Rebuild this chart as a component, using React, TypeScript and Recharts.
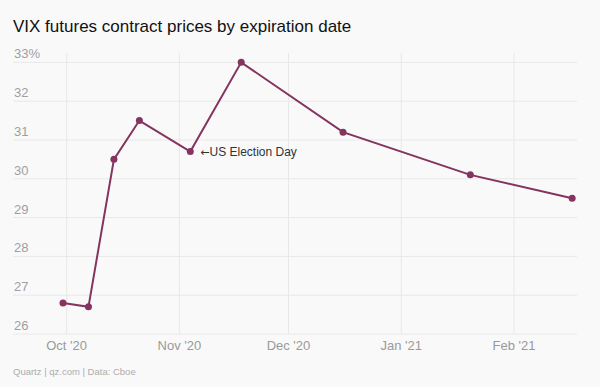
import React from 'react'
import { LineChart, Line, XAxis, YAxis, CartesianGrid, LabelList } from 'recharts'

// expiration dates and settle prices (VIX points)
const expirations = [
  '2020-09-30',
  '2020-10-07',
  '2020-10-14',
  '2020-10-21',
  '2020-11-04',
  '2020-11-18',
  '2020-12-16',
  '2021-01-20',
  '2021-02-17',
]
const prices = [26.8, 26.7, 30.5, 31.5, 30.7, 33.0, 31.2, 30.1, 29.5]

const yTicks = [26, 27, 28, 29, 30, 31, 32, 33]
const monthTicks = ['2020-10-01', '2020-11-01', '2020-12-01', '2021-01-01', '2021-02-01']
const monthLabels = ["Oct '20", "Nov '20", "Dec '20", "Jan '21", "Feb '21"]

const annotationIndex = 4
const annotationText = 'US Election Day'

const data = expirations.map((d, i) => ({ t: Date.parse(d), price: prices[i] }))
const xTicks = monthTicks.map((d) => Date.parse(d))

const FONT = '"Liberation Sans", Arial, Helvetica, sans-serif'
const PLUM = '#84345f'

function XTick(props: any) {
  const { x, y, payload } = props
  const i = xTicks.indexOf(payload.value)
  return (
    <text x={x} y={y + 16} textAnchor="middle" fontSize={13} fill="#9a9a9a" fontFamily={FONT}>
      {monthLabels[i]}
    </text>
  )
}

function YTick(props: any) {
  const { y, payload } = props
  const v = payload.value
  return (
    <text x={14} y={y - 4} textAnchor="start" fontSize={13} fill="#9f9f9f" fontFamily={FONT}>
      {v === 33 ? `${v}%` : v}
    </text>
  )
}

function ElectionLabel(props: any) {
  const { x, y, index } = props
  if (index !== annotationIndex) return null
  return (
    <text x={x + 10} y={y + 4.5} fontSize={12} fill="#333" fontFamily={FONT}>
      <tspan fontFamily='"DejaVu Sans", sans-serif' fontSize={11}>
        ←
      </tspan>
      {annotationText}
    </text>
  )
}

export default function App() {
  return (
    <div
      style={{
        position: 'absolute',
        left: 0,
        top: 0,
        width: 600,
        height: 387,
        background: '#f9f9f9',
        fontFamily: FONT,
      }}
    >
      <div
        style={{
          position: 'absolute',
          left: 13,
          top: 17,
          fontSize: 17,
          lineHeight: '20px',
          color: '#111',
          whiteSpace: 'nowrap',
        }}
      >
        VIX futures contract prices by expiration date
      </div>
      <LineChart
        width={600}
        height={387}
        data={data}
        margin={{ top: 53, right: 23, bottom: 23, left: 12 }}
        style={{ position: 'absolute', left: 0, top: 0 }}
      >
        <CartesianGrid
          stroke="#e8e8e8"
          strokeWidth={1}
          horizontalValues={yTicks}
          verticalValues={xTicks}
        />
        <XAxis
          dataKey="t"
          type="number"
          scale="time"
          domain={[Date.UTC(2020, 8, 16, 6), Date.UTC(2021, 1, 18, 8)]}
          ticks={xTicks}
          height={30}
          axisLine={false}
          tickLine={false}
          tickSize={0}
          tickMargin={0}
          tick={<XTick />}
          interval={0}
        />
        <YAxis
          type="number"
          domain={[26, 33.24]}
          ticks={yTicks}
          width={1}
          axisLine={false}
          tickLine={false}
          tick={<YTick />}
          interval={0}
          allowDataOverflow
        />
        <Line
          dataKey="price"
          stroke={PLUM}
          strokeWidth={2}
          dot={{ r: 3.5, fill: PLUM, stroke: PLUM, strokeWidth: 0 }}
          activeDot={false}
          isAnimationActive={false}
        >
          <LabelList dataKey="price" content={<ElectionLabel />} />
        </Line>
      </LineChart>
      <div
        style={{
          position: 'absolute',
          left: 13,
          top: 366,
          fontSize: 9.5,
          lineHeight: '12px',
          color: '#acacac',
          whiteSpace: 'nowrap',
        }}
      >
        Quartz | qz.com | Data: Cboe
      </div>
    </div>
  )
}
